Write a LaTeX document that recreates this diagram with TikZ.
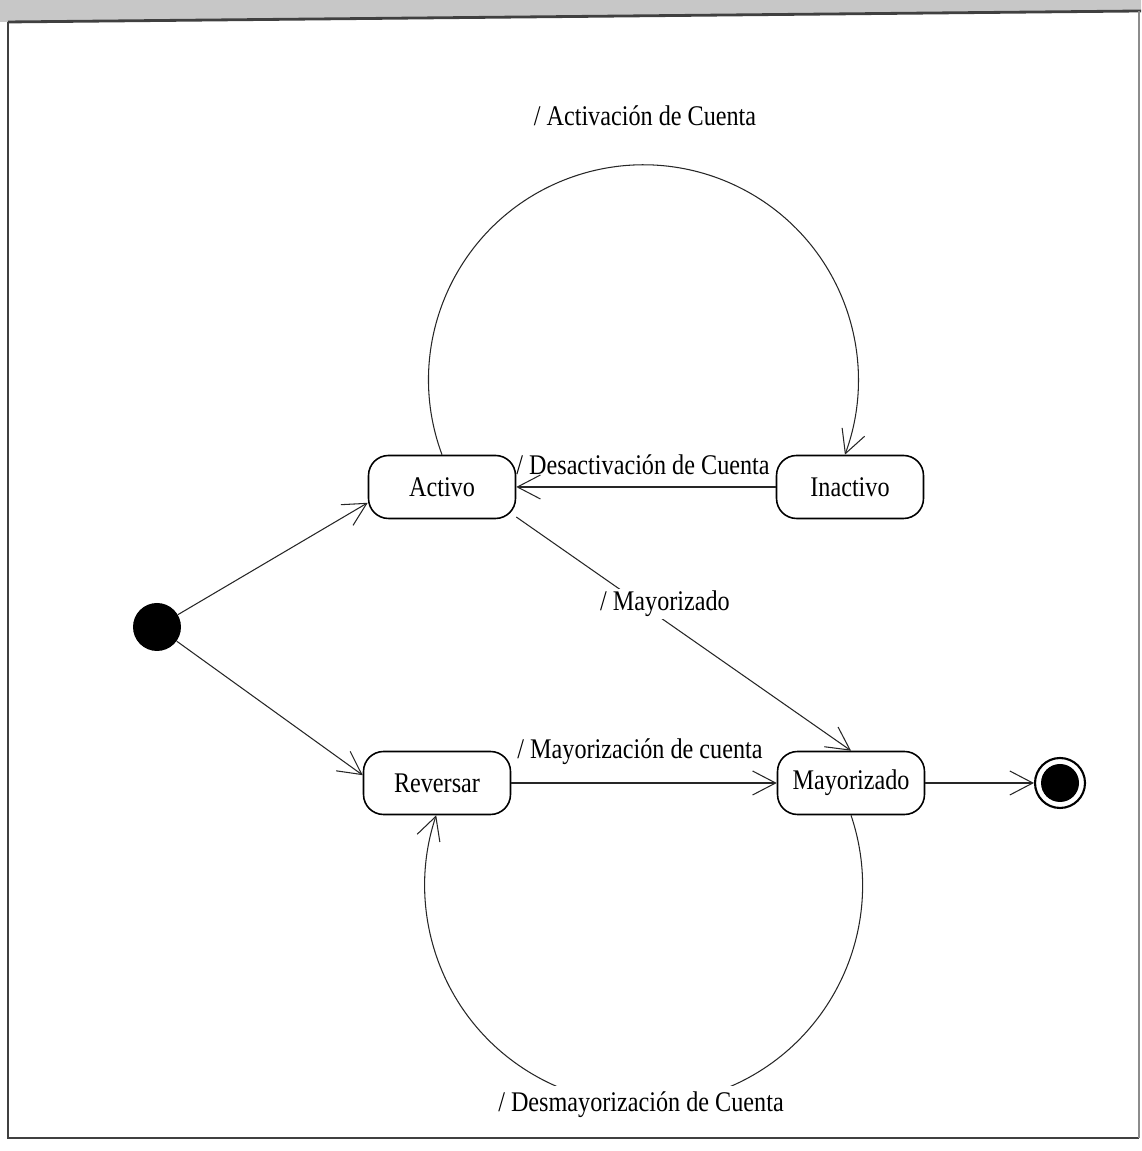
\documentclass[tikz,border=0pt]{standalone}
\usepackage{fontspec}
\setmainfont[FakeStretch=0.85]{Liberation Serif}
\usetikzlibrary{arrows.meta}
\begin{document}
\begin{tikzpicture}[x=0.02cm,y=0.02cm,
  every node/.style={font=\fontsize{16.2}{19}\selectfont},
  statebox/.style={draw, line width=0.9pt, rounded corners=0.4cm, minimum width=2.94cm, minimum height=1.26cm, inner sep=0pt},
  lbl/.style={inner sep=1pt},
  arr/.style={draw=black!85, line width=0.6pt, -{Straight Barb[length=0.46cm, width=0.48cm, line width=0.6pt]}},
  framel/.style={draw=black!75, line width=0.8pt}]
\useasboundingbox (0,0) rectangle (1141,1151);
% title band and frame
\fill[black!22] (0,1151) -- (1141,1151) -- (1141,1140) -- (0,1129) -- cycle;
\coordinate (ftl) at (8,1129);
\coordinate (ftr) at (1141,1140);
\coordinate (fbl) at (8,13);
\coordinate (fbr) at (1139,13);
\coordinate (frt) at (1139,1140);
\draw[framel, line width=1.6pt] (ftl) -- (ftr);
\draw[framel] (ftl) -- (fbl) -- (fbr);
\draw[draw=black!45, line width=0.8pt] (frt) -- (fbr);
% states
\node[circle, fill=black, minimum size=0.96cm, inner sep=0pt] (init) at (157,524) {};
\node[statebox] (act) at (442,664) {Activo};
\node[statebox] (inact) at (850,664) {Inactivo};
\node[statebox] (rev) at (437,368) {Reversar};
\node[statebox] (may) at (851,368) {Mayorizado};
\node[circle, draw, line width=1.2pt, minimum size=1.0cm, inner sep=0pt] (fin) at (1060,368) {};
\fill (fin.center) circle (0.38cm);
% transitions
\draw[arr] (init) -- (act.192);
\draw[arr] (init) -- (rev.174);
\draw[arr] (inact.west) -- (act.east);
\draw[arr] (act.338) -- (may.north);
\draw[arr] (rev.east) -- (may.west);
\draw[arr] (may.east) -- (fin);
\draw[arr] (act.north) arc[start angle=200.4, end angle=-20.4, radius=4.3cm];
\draw[arr] (may.south) arc[start angle=18.7, end angle=-198.7, radius=4.38cm];
% labels
\node[lbl] (l1) at (645,1035) {/ Activación de Cuenta};
\node[lbl] (l2) at (643,686) {/ Desactivación de Cuenta};
\node[lbl, fill=white] (l3) at (665,547) {/ Mayorizado};
\node[lbl] (l4) at (640,399) {/ Mayorización de cuenta};
\node[fill=white, inner xsep=2pt, inner ysep=0pt, minimum height=0.76cm] (l5) at (641,46) {/ Desmayorización de Cuenta};
\end{tikzpicture}
\end{document}
